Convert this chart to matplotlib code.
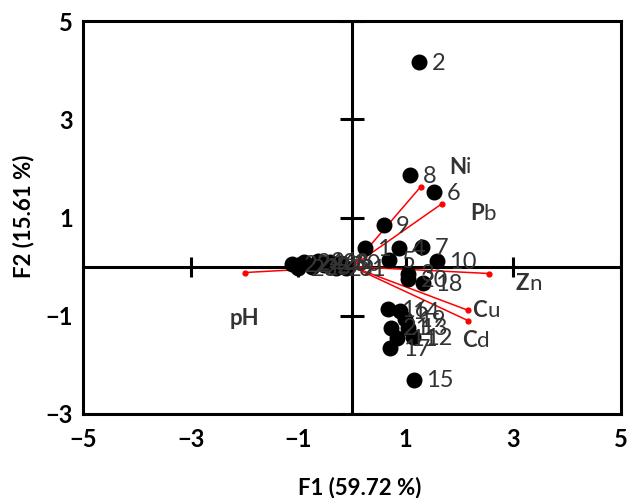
import matplotlib
matplotlib.use("Agg")
import matplotlib.pyplot as plt

plt.rcParams['font.family'] = ['Lato', 'DejaVu Sans']

# sample scores (F1, F2)
samples = [str(i) for i in range(1, 32)]
f1 = [0.24, 1.25, 1.04, 0.87, 0.69, 1.52, 1.30, 1.08, 0.59, 1.58,
      0.84, 1.13, 1.04, 0.89, 1.15, 0.67, 0.71, 1.32, 0.99, 1.05,
      0.72, -1.12, -1.00, -0.89, -0.74, -0.63, -0.52, -0.41, -0.30, -0.20, -0.11]
f2 = [0.37, 4.17, -0.14, 0.37, 0.14, 1.51, 0.39, 1.87, 0.84, 0.12,
      -1.45, -1.43, -1.24, -0.90, -2.30, -0.86, -1.65, -0.33, -1.06, -0.25,
      -1.24, 0.05, -0.02, 0.10, 0.00, 0.12, 0.03, 0.10, -0.03, 0.08, -0.02]

# variable loadings
variables = ['Ni', 'Pb', 'Zn', 'Cu', 'Cd', 'pH']
v1 = [1.28, 1.67, 2.55, 2.16, 2.16, -1.99]
v2 = [1.63, 1.28, -0.14, -0.89, -1.10, -0.12]

x_ticks = [-5, -3, -1, 1, 3, 5]
y_ticks = [-3, -1, 1, 3, 5]

fig = plt.figure(figsize=(6.3, 4.98), dpi=100)
ax = fig.add_axes([0.1317, 0.1687, 0.854, 0.789])
ax.set_xlim(-5, 5)
ax.set_ylim(-3, 5)

# centre axes with cross ticks
ax.axhline(0, color='black', lw=2.2, zorder=1)
ax.axvline(0, color='black', lw=2.2, zorder=1)
ax.plot(x_ticks, [0] * len(x_ticks), ls='none', marker='|', ms=14, mew=2.2,
        color='black', zorder=1)
ax.plot([0] * len(y_ticks), y_ticks, ls='none', marker='_', ms=17, mew=2.2,
        color='black', zorder=1)

# loading vectors
for x, y in zip(v1, v2):
    ax.plot([0, x], [0, y], color='red', lw=1.1, zorder=2)
ax.scatter(v1, v2, s=12, color='red', zorder=2)

# sample points
ax.scatter(f1, f2, s=110, color='black', zorder=3)
for lab, x, y in zip(samples, f1, f2):
    ax.annotate(lab, (x, y), xytext=(9, -1), textcoords='offset points',
                ha='left', va='center', fontsize=17, color='#333333', zorder=4)

# variable labels: bold first letter
label_pos = {'Ni': (2.12, 2.02), 'Pb': (2.45, 1.08), 'Zn': (3.29, -0.35),
             'Cu': (2.51, -0.90), 'Cd': (2.32, -1.51)}
for name in variables:
    if name == 'pH':
        ax.text(-1.99, -1.06, 'pH', ha='center', va='center', fontsize=16,
                fontweight='bold', color='#333333')
        continue
    lx, ly = label_pos[name]
    ax.text(lx, ly, name[0], ha='right', va='center', fontsize=16,
            fontweight='bold', color='#333333')
    ax.text(lx, ly, name[1:], ha='left', va='center', fontsize=16,
            color='#333333')

for s in ax.spines.values():
    s.set_linewidth(2.2)
ax.set_xticks(x_ticks)
ax.set_yticks(y_ticks)
ax.tick_params(length=0, labelsize=17)
ax.tick_params(axis='x', pad=10)
ax.tick_params(axis='y', pad=7)
for t in ax.get_xticklabels() + ax.get_yticklabels():
    t.set_fontweight('bold')

ax.set_xlabel('F1 (59.72 %)', fontsize=16, fontweight='bold')
ax.set_ylabel('F2 (15.61 %)', fontsize=16, fontweight='bold')
ax.xaxis.label.set_va('center')
ax.yaxis.label.set_va('center')
ax.xaxis.set_label_coords(0.515, -0.186)
ax.yaxis.set_label_coords(-0.110, 0.504)

fig.savefig('out.png', dpi=100)
